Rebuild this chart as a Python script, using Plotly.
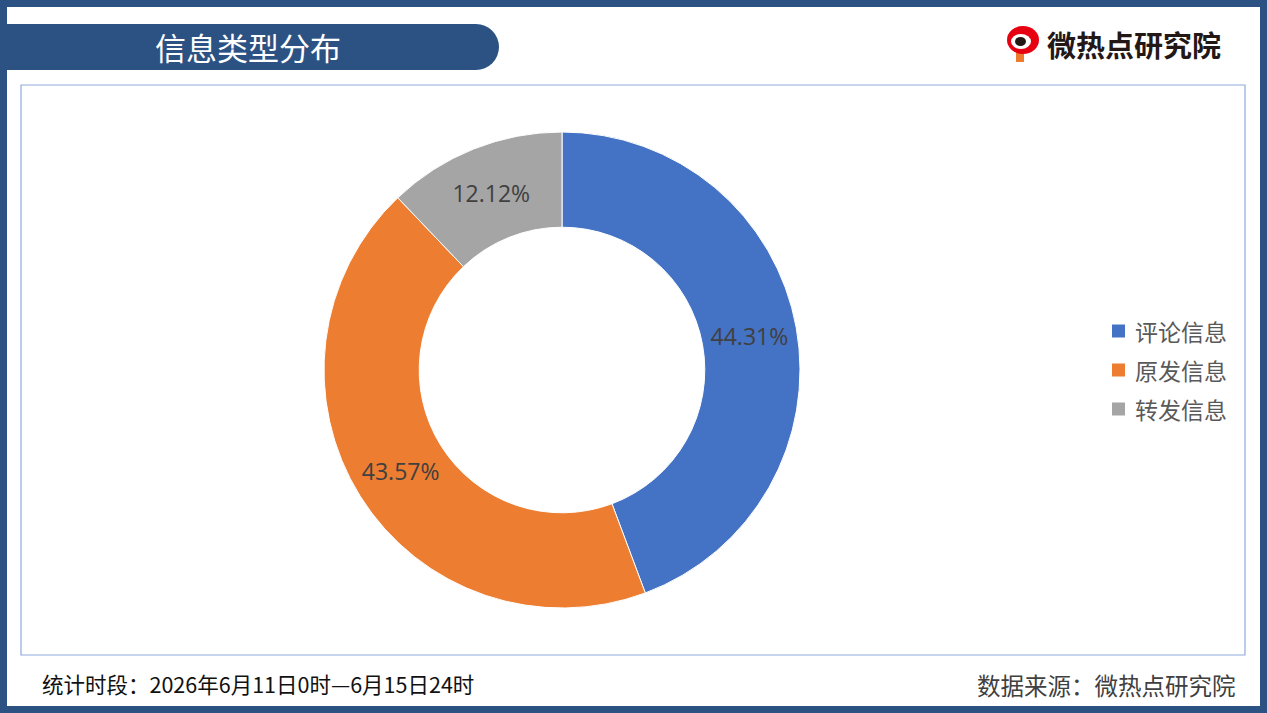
import plotly.graph_objects as go

# data
categories = ["评论信息", "原发信息", "转发信息"]
shares = [44.31, 43.57, 12.12]
colors = ["#4472C4", "#ED7D31", "#A5A5A5"]

W, H = 1267, 713
navy = "#2C5283"
font_cn = "Noto Sans CJK SC"

fig = go.Figure(go.Pie(
    labels=categories,
    values=shares,
    hole=0.6,
    sort=False,
    direction="clockwise",
    rotation=0,
    marker=dict(colors=colors, line=dict(color="white", width=1)),
    texttemplate="%{value:.2f}%",
    textposition="inside",
    insidetextorientation="horizontal",
    textfont=dict(family="Open Sans", size=23, color="#404040"),
    domain=dict(x=[324 / W, 800 / W], y=[(H - 608) / H, (H - 132) / H]),
    hoverinfo="label+value",
    showlegend=False,
))

shapes = [
    # outer frame
    dict(type="rect", xref="paper", yref="paper", x0=0, x1=1, y0=0, y1=1,
         line=dict(color=navy, width=14), fillcolor="rgba(0,0,0,0)", layer="above"),
    # plot box
    dict(type="rect", xref="paper", yref="paper",
         x0=21 / W, x1=1245 / W, y0=(H - 655) / H, y1=(H - 85) / H,
         line=dict(color="#8FAADC", width=1.2), fillcolor="rgba(0,0,0,0)"),
    # title bar body
    dict(type="rect", xref="paper", yref="paper",
         x0=6 / W, x1=476 / W, y0=(H - 70) / H, y1=(H - 24) / H,
         line=dict(width=0), fillcolor=navy, layer="below"),
    # rounded end
    dict(type="circle", xref="paper", yref="paper",
         x0=453 / W, x1=499 / W, y0=(H - 70) / H, y1=(H - 24) / H,
         line=dict(width=0), fillcolor=navy, layer="below"),
    # logo icon
    dict(type="rect", xref="paper", yref="paper",
         x0=1016 / W, x1=1024 / W, y0=(H - 62) / H, y1=(H - 49) / H,
         line=dict(width=0), fillcolor="#EE7A2F"),
    dict(type="circle", xref="paper", yref="paper",
         x0=1007 / W, x1=1039 / W, y0=(H - 54) / H, y1=(H - 26) / H,
         line=dict(width=0), fillcolor="#E60012"),
    dict(type="circle", xref="paper", yref="paper",
         x0=1011 / W, x1=1031 / W, y0=(H - 49) / H, y1=(H - 34) / H,
         line=dict(width=0), fillcolor="white"),
    dict(type="circle", xref="paper", yref="paper",
         x0=1015 / W, x1=1026 / W, y0=(H - 46) / H, y1=(H - 37) / H,
         line=dict(width=0), fillcolor="#231815"),
]

annotations = [
    dict(text="信息类型分布", x=248 / W, y=(H - 46) / H, xref="paper", yref="paper",
         showarrow=False, xanchor="center", yanchor="middle",
         font=dict(family=font_cn, size=31, color="white")),
    dict(text="<b>微热点研究院</b>", x=1045 / W, y=(H - 44) / H, xref="paper", yref="paper",
         showarrow=False, xanchor="left", yanchor="middle",
         font=dict(family=font_cn, size=29, color="#231815")),
    dict(text="统计时段：2026年6月11日0时—6月15日24时", x=40 / W, y=(H - 683) / H,
         xref="paper", yref="paper", showarrow=False, xanchor="left", yanchor="middle",
         font=dict(family=font_cn, size=21.5, color="#111111")),
    dict(text="数据来源：微热点研究院", x=1238 / W, y=(H - 685) / H,
         xref="paper", yref="paper", showarrow=False, xanchor="right", yanchor="middle",
         font=dict(family=font_cn, size=23.5, color="#404040")),
]

# legend drawn by hand so the row spacing matches
for i, (name, col) in enumerate(zip(categories, colors)):
    yc = 331 + 39 * i
    shapes.append(dict(type="rect", xref="paper", yref="paper",
                       x0=1112 / W, x1=1125 / W, y0=(H - yc - 6.5) / H, y1=(H - yc + 6.5) / H,
                       line=dict(width=0), fillcolor=col))
    annotations.append(dict(text=name, x=1133 / W, y=(H - yc) / H, xref="paper", yref="paper",
                            showarrow=False, xanchor="left", yanchor="middle",
                            font=dict(family=font_cn, size=23, color="#595959")))

fig.update_layout(
    width=W, height=H,
    margin=dict(l=0, r=0, t=0, b=0),
    paper_bgcolor="white",
    plot_bgcolor="white",
    shapes=shapes,
    annotations=annotations,
)

fig.write_html(
    "out.html",
    config={"displayModeBar": False},
    post_script="document.body.style.margin='0';document.body.style.overflow='hidden';",
)
